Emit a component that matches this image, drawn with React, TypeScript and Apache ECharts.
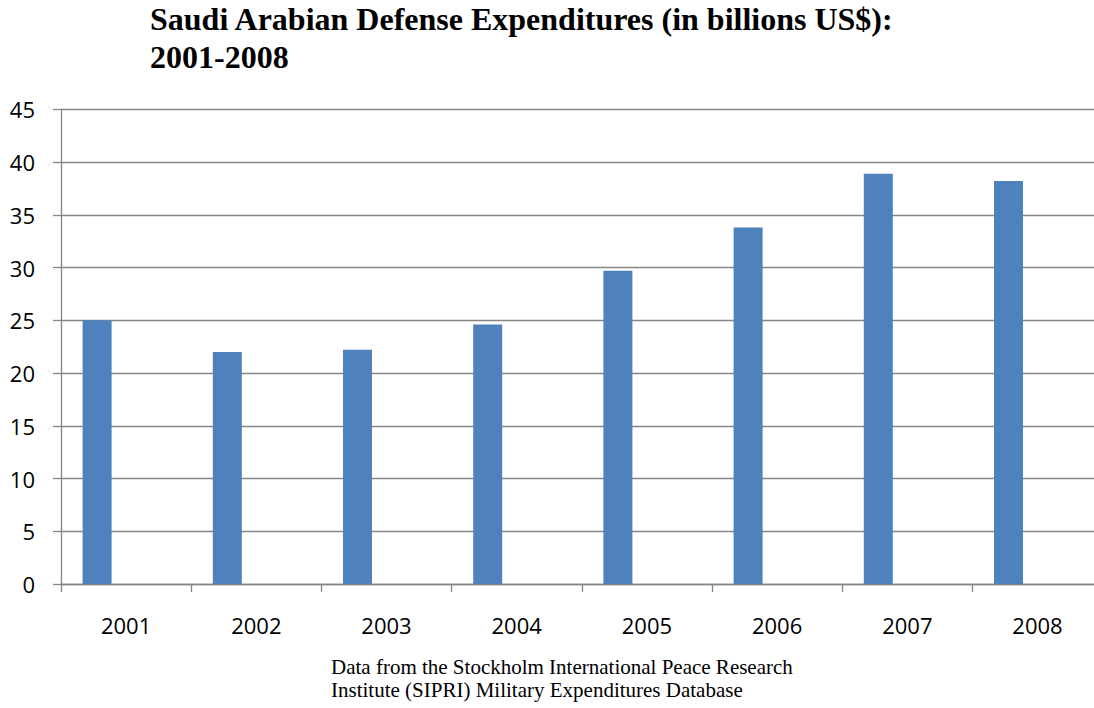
import React, { useEffect, useRef } from "react";
import * as echarts from "echarts";

const years = ["2001", "2002", "2003", "2004", "2005", "2006", "2007", "2008"];
const spending = [25.0, 22.0, 22.2, 24.6, 29.7, 33.8, 38.9, 38.2];
const emptySeries: (number | null)[] = [null, null, null, null, null, null, null, null];

const titleLines = ["Saudi Arabian Defense Expenditures (in billions US$):", "2001-2008"];
const sourceLines = [
  "Data from the Stockholm International Peace Research",
  "Institute (SIPRI) Military Expenditures Database",
];

export default function App() {
  const ref = useRef<HTMLDivElement>(null);
  useEffect(() => {
    if (!ref.current) return;
    const chart = echarts.init(ref.current, undefined, { renderer: "svg" });
    const gray = "#868686";
    chart.setOption({
      animation: false,
      backgroundColor: "#ffffff",
      title: {
        text: titleLines.join("\n"),
        left: 150,
        top: 0,
        padding: 0,
        textStyle: {
          fontFamily: "Liberation Serif",
          fontWeight: "bold",
          fontSize: 32,
          lineHeight: 38,
          color: "#000",
        },
      },
      graphic: [
        {
          type: "text",
          left: 331,
          top: 655,
          style: {
            text: sourceLines.join("\n"),
            font: "21px 'Liberation Serif'",
            lineHeight: 23,
            fill: "#000",
          },
        },
      ],
      grid: { left: 61, top: 109.3, width: 1041.6, bottom: 124, containLabel: false },
      xAxis: {
        type: "category",
        data: years,
        boundaryGap: true,
        axisLine: { show: true, lineStyle: { color: gray, width: 1.3 } },
        axisTick: { show: true, length: 8, lineStyle: { color: gray, width: 1.3 } },
        axisLabel: {
          margin: 30,
          fontFamily: "Open Sans",
          fontSize: 22,
          color: "#000",
        },
      },
      yAxis: {
        type: "value",
        min: 0,
        max: 45,
        interval: 5,
        axisLine: { show: true, lineStyle: { color: gray, width: 1.3 } },
        axisTick: { show: true, length: 8, lineStyle: { color: gray, width: 1.3 } },
        splitLine: { show: true, lineStyle: { color: gray, width: 1.3 } },
        axisLabel: {
          margin: 26,
          fontFamily: "Open Sans",
          fontSize: 22,
          color: "#000",
        },
      },
      series: [
        {
          type: "bar",
          data: spending,
          barWidth: 29,
          barGap: "0%",
          itemStyle: { color: "#4F81BD" },
        },
        { type: "bar", data: emptySeries, barWidth: 29, barGap: "0%" },
        { type: "bar", data: emptySeries, barWidth: 29, barGap: "0%" },
      ],
    });
    return () => chart.dispose();
  }, []);
  return (
    <div
      style={{
        position: "absolute",
        left: 0,
        top: 0,
        width: 1094,
        height: 708,
        overflow: "hidden",
        background: "#fff",
      }}
    >
      <div ref={ref} style={{ width: 1120, height: 708 }} />
    </div>
  );
}
